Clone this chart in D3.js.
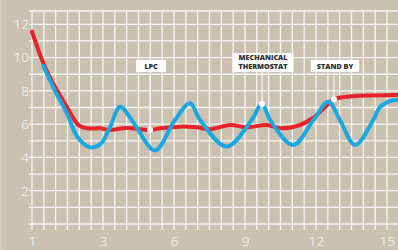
<!DOCTYPE html>
<html>
<head>
<meta charset="utf-8">
<script src="https://cdn.jsdelivr.net/npm/d3@7"></script>
<style>
  body { margin: 0; background: #cbc1b1; }
  svg { display: block; }
</style>
</head>
<body>
<div id="chart"></div>
<script>
// Chart size
const width = 398;
const height = 250;

// x tick positions and the labels printed under them
const xTickValues = [0, 3, 6, 9, 12, 15];
const xTickLabels = ["1", "3", "6", "9", "12", "15"];
const yTickValues = [2, 4, 6, 8, 10, 12];

// red curve (x, value)
const redX = [0, 0.48, 0.97, 1.47, 1.96, 2.31, 2.87, 3.3, 4.0, 4.99, 5.41, 6.25, 6.96, 7.52, 8.37, 9.07, 9.92, 10.48, 11.32, 11.87, 12.34, 12.76, 13.3, 13.86, 15.46];
const redY = [11.56, 9.66, 8.25, 7.05, 5.95, 5.75, 5.75, 5.65, 5.77, 5.65, 5.75, 5.85, 5.81, 5.69, 5.95, 5.81, 5.95, 5.75, 5.95, 6.37, 6.97, 7.49, 7.65, 7.71, 7.75];

// blue curve (x, value)
const blueX = [0.48, 0.97, 1.47, 1.89, 2.31, 2.59, 2.94, 3.3, 3.72, 4.27, 5.2, 6.04, 6.68, 7.1, 8.23, 9.28, 9.72, 10.06, 11.04, 11.89, 12.52, 13.01, 13.65, 14.42, 14.7, 15.13, 15.46];
const blueY = [9.5, 8.0, 6.67, 5.29, 4.69, 4.61, 4.87, 5.83, 7.05, 6.13, 4.42, 6.25, 7.25, 6.25, 4.65, 6.25, 7.21, 6.25, 4.75, 6.25, 7.35, 6.25, 4.75, 6.25, 7.03, 7.39, 7.45];

// callouts: text lines, which curve, x on that curve
const noteLabels = [["LPC"], ["MECHANICAL", "THERMOSTAT"], ["STAND BY"]];
const noteSeries = ["red", "blue", "red"];
const noteX = [4.99, 9.72, 12.76];

const red = redX.map((x, i) => ({ x, y: redY[i] }));
const blue = blueX.map((x, i) => ({ x, y: blueY[i] }));
const series = { red, blue };

const x = d3.scaleLinear().domain([0, 15]).range([32, 387]);
const y = d3.scaleLinear().domain([0, 12.8]).range([224, 11]);

const svg = d3.select("#chart")
  .append("svg")
  .attr("width", width)
  .attr("height", height);

svg.append("rect")
  .attr("width", width)
  .attr("height", height)
  .attr("fill", "#cbc1b1");

svg.append("rect")
  .attr("x", 0).attr("width", 2).attr("height", height)
  .attr("fill", "#d5cdc0");

// grid
const grid = svg.append("g")
  .attr("stroke", "#fff")
  .attr("stroke-opacity", 0.85)
  .attr("stroke-width", 1.3);

grid.selectAll("line.h")
  .data(d3.range(0, 13).concat([12.8]))
  .join("line")
  .attr("class", "h")
  .attr("x1", 29).attr("x2", width)
  .attr("y1", d => y(d)).attr("y2", d => y(d));

grid.selectAll("line.v")
  .data(d3.range(0, 15.5, 0.5))
  .join("line")
  .attr("class", "v")
  .attr("x1", d => x(d)).attr("x2", d => x(d))
  .attr("y1", y(12.8)).attr("y2", 230);

// axes, only the labels are kept
const tickFont = "'Open Sans', 'DejaVu Sans', sans-serif";

const yAxis = svg.append("g")
  .attr("transform", "translate(29,0)")
  .call(d3.axisLeft(y).tickValues(yTickValues).tickSize(0).tickPadding(0));
yAxis.select(".domain").remove();
yAxis.selectAll("text")
  .attr("fill", "#fff")
  .style("font", `300 13.5px ${tickFont}`);

const xAxis = svg.append("g")
  .attr("transform", "translate(0,236)")
  .call(d3.axisBottom(x).tickValues(xTickValues)
    .tickFormat((d, i) => xTickLabels[i]).tickSize(0).tickPadding(0));
xAxis.select(".domain").remove();
xAxis.selectAll("text")
  .attr("fill", "#fff")
  .attr("dy", "0.71em")
  .style("font", `300 13.5px ${tickFont}`);

// curves
const line = d3.line()
  .x(d => x(d.x))
  .y(d => y(d.y))
  .curve(d3.curveCatmullRom.alpha(0.5));

svg.append("path")
  .datum(red)
  .attr("fill", "none")
  .attr("stroke", "#e8212b")
  .attr("stroke-width", 4)
  .attr("stroke-linecap", "round")
  .attr("d", line);

svg.append("path")
  .datum(blue)
  .attr("fill", "none")
  .attr("stroke", "#1ba8e0")
  .attr("stroke-width", 4)
  .attr("stroke-linecap", "round")
  .attr("d", line);

// callouts
const boxBottom = 72;
const notes = svg.append("g");

noteLabels.forEach((lines, i) => {
  const pt = series[noteSeries[i]].find(d => d.x === noteX[i]);
  const px = x(pt.x);
  const py = y(pt.y);
  const g = notes.append("g");

  g.append("line")
    .attr("x1", px).attr("x2", px)
    .attr("y1", boxBottom).attr("y2", py)
    .attr("stroke", "#fff")
    .attr("stroke-width", 1);

  const bh = lines.length === 1 ? 12 : 19;
  let maxW = 0;
  lines.forEach((t, j) => {
    const tx = g.append("text")
      .attr("x", px + 1)
      .attr("y", boxBottom - 3.3 - (lines.length - 1 - j) * 8.6)
      .attr("text-anchor", "middle")
      .attr("fill", "#2e2e2e")
      .style("font", "800 7.2px 'Open Sans', sans-serif")
      .text(t);
    maxW = Math.max(maxW, tx.node().getComputedTextLength());
  });

  const bw = Math.max(maxW + 12, 30);
  g.insert("rect", "text")
    .attr("x", px + 1 - bw / 2)
    .attr("y", boxBottom - bh)
    .attr("width", bw)
    .attr("height", bh)
    .attr("fill", "#fff");

  g.append("circle")
    .attr("cx", px).attr("cy", py)
    .attr("r", 3)
    .attr("fill", "#fff");
});
</script>
</body>
</html>
